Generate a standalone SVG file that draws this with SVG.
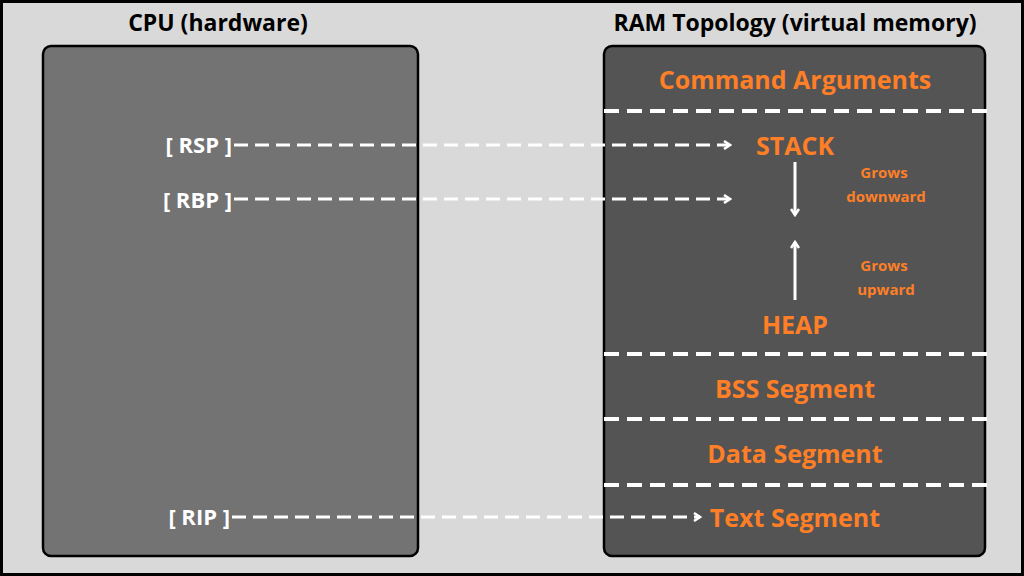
<svg xmlns="http://www.w3.org/2000/svg" width="1024" height="576" viewBox="0 0 1024 576">
<style>
text{font-family:"Open Sans","Liberation Sans",sans-serif;font-weight:bold}
.t{font-size:23px;fill:#000;text-anchor:middle}
.o{font-size:25px;fill:#ff7f27;text-anchor:middle}
.s{font-size:15px;fill:#ff7f27;text-anchor:middle}
.r{font-size:22px;fill:#fff;text-anchor:end}
.sep{stroke:#fff;stroke-width:4;stroke-dasharray:15 8}
.ar{stroke:#fff;stroke-width:3;fill:none}
.da{stroke-dasharray:14 7}
</style>
<defs><marker id="h" markerWidth="10" markerHeight="10" refX="8" refY="5" orient="auto" markerUnits="userSpaceOnUse"><path d="M2 1 L8 5 L2 9" fill="none" stroke="#fff" stroke-width="2.5"/></marker></defs>
<rect x="1.5" y="1.5" width="1021" height="573" fill="#d9d9d9" stroke="#000" stroke-width="3"/>
<text class="t" x="218" y="31">CPU (hardware)</text>
<text class="t" x="795" y="31">RAM Topology (virtual memory)</text>
<g id="cpu"><rect x="43" y="46" width="375" height="510" rx="8" fill="#737373" stroke="#000" stroke-width="2.5"/>
<text class="r" x="232" y="153">[ RSP ]</text>
<text class="r" x="232" y="208">[ RBP ]</text>
<text class="r" x="230" y="525">[ RIP ]</text></g>
<g id="ram"><rect x="604" y="46" width="381" height="510" rx="8" fill="#545454" stroke="#000" stroke-width="2.5"/>
<text class="o" x="795" y="89">Command Arguments</text>
<text class="o" x="795" y="155">STACK</text>
<text class="o" x="795" y="334">HEAP</text>
<text class="o" x="795" y="398">BSS Segment</text>
<text class="o" x="795" y="463">Data Segment</text>
<text class="o" x="795" y="527">Text Segment</text>
<text class="s" x="884" y="178">Grows</text><text class="s" x="886" y="202">downward</text>
<text class="s" x="884" y="271">Grows</text><text class="s" x="886" y="295">upward</text>
<line class="sep" x1="604" y1="111" x2="987" y2="111"/>
<line class="sep" x1="604" y1="354" x2="987" y2="354"/>
<line class="sep" x1="604" y1="419" x2="987" y2="419"/>
<line class="sep" x1="604" y1="485" x2="987" y2="485"/></g>
<g id="connectors">
<line class="ar da" x1="234" y1="145" x2="730" y2="145" marker-end="url(#h)"/>
<line class="ar da" x1="234" y1="199" x2="730" y2="199" marker-end="url(#h)"/>
<line class="ar da" x1="232" y1="517" x2="700" y2="517" marker-end="url(#h)"/>
<line class="ar" x1="795" y1="162" x2="795" y2="215" marker-end="url(#h)"/>
<line class="ar" x1="795" y1="300" x2="795" y2="242" marker-end="url(#h)"/>
</g>
</svg>
